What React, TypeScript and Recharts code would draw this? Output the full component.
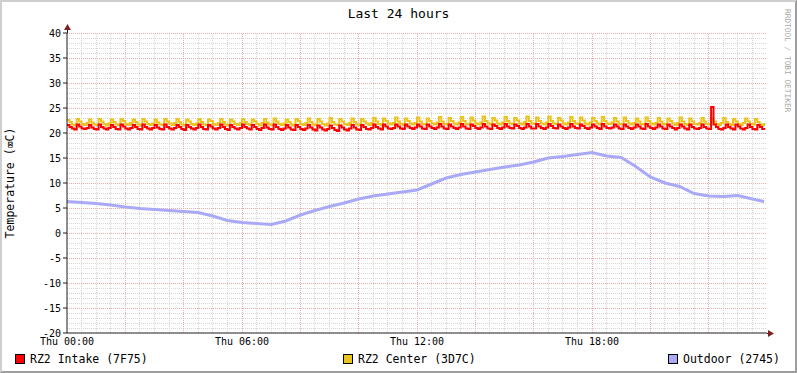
import { LineChart, Line, XAxis, YAxis, ReferenceLine, Legend, Label } from "recharts";

const MONO = "'DejaVu Sans Mono', monospace";

const TITLE = "Last 24 hours";
const Y_LABEL = "Temperature (\u2327C)";
const WATERMARK = "RRDTOOL / TOBI OETIKER";

const SERIES_NAMES = ["RZ2 Intake (7F75)", "RZ2 Center (3D7C)", "Outdoor (2745)"];
const COLORS = ["#ff0000", "#eac41e", "#a9a9f7"];

const X_TICKS = [0, 6, 12, 18];
const X_TICK_LABELS = ["Thu 00:00", "Thu 06:00", "Thu 12:00", "Thu 18:00"];
const Y_TICKS = [-20, -15, -10, -5, 0, 5, 10, 15, 20, 25, 30, 35, 40];

// 5 minute samples, one row per hour
const intake = [
  21.6, 21.2, 20.9, 20.7, 21.7, 21.3, 20.9, 20.8, 21.0, 21.6, 21.1, 20.8,
  20.7, 21.7, 21.2, 20.9, 20.7, 21.0, 21.6, 21.2, 20.8, 20.7, 21.7, 21.3,
  20.9, 20.7, 21.0, 21.6, 21.2, 20.8, 20.7, 21.7, 21.2, 20.9, 20.7, 21.0,
  21.6, 21.1, 20.8, 20.7, 21.7, 21.2, 20.9, 20.7, 21.0, 21.6, 21.2, 20.8,
  20.6, 21.6, 21.2, 20.9, 20.7, 21.0, 21.7, 21.2, 20.8, 20.7, 21.6, 21.3,
  20.9, 20.7, 21.0, 21.7, 21.2, 20.8, 20.6, 21.6, 21.2, 20.9, 20.7, 21.0,
  21.7, 21.2, 20.9, 20.7, 21.6, 21.2, 20.8, 20.6, 21.0, 21.7, 21.1, 20.8,
  20.7, 21.7, 21.2, 20.8, 20.6, 20.9, 21.6, 21.1, 20.7, 20.6, 21.6, 21.2,
  20.8, 20.6, 20.9, 21.6, 21.1, 20.7, 20.5, 21.5, 21.1, 20.7, 20.5, 20.8,
  21.5, 21.0, 20.6, 20.4, 21.5, 21.1, 20.7, 20.5, 20.9, 21.6, 21.1, 20.7,
  20.6, 21.6, 21.2, 20.8, 20.7, 21.0, 21.7, 21.2, 20.9, 20.7, 21.7, 21.3,
  20.9, 20.8, 21.0, 21.7, 21.3, 20.9, 20.8, 21.7, 21.3, 21.0, 20.8, 21.1,
  21.7, 21.3, 20.9, 20.8, 21.7, 21.3, 21.0, 20.8, 21.1, 21.8, 21.3, 20.9,
  20.8, 21.7, 21.3, 21.0, 20.8, 21.1, 21.8, 21.3, 20.9, 20.8, 21.7, 21.4,
  21.0, 20.8, 21.1, 21.8, 21.3, 20.9, 20.8, 21.7, 21.4, 21.0, 20.8, 21.1,
  21.8, 21.3, 21.0, 20.9, 21.7, 21.4, 21.0, 20.8, 21.1, 21.8, 21.3, 20.9,
  20.9, 21.8, 21.3, 21.0, 20.8, 21.1, 21.8, 21.4, 21.0, 20.9, 21.7, 21.3,
  21.0, 20.8, 21.1, 21.8, 21.3, 21.0, 20.9, 21.7, 21.4, 21.0, 20.8, 21.1,
  21.7, 21.3, 21.0, 20.8, 21.8, 21.3, 21.0, 20.9, 21.1, 21.7, 21.3, 20.9,
  20.8, 21.7, 21.3, 21.0, 20.8, 21.1, 21.7, 21.3, 20.9, 20.8, 21.8, 21.3,
  21.0, 20.8, 21.1, 21.7, 21.3, 20.9, 20.8, 21.7, 21.3, 21.0, 20.7, 21.0,
  21.7, 21.3, 20.9, 20.7, 21.7, 21.2, 20.9, 20.8, 21.0, 21.7, 21.2, 20.9,
  20.8, 25.2, 21.7, 21.2, 20.8, 20.7, 21.0, 21.7, 21.2, 20.9, 20.7, 21.7,
  21.3, 20.9, 20.7, 21.0, 21.7, 21.2, 20.8, 20.7, 21.6, 21.2, 20.8, 20.6,
];

const center = [
  22.6, 22.2, 21.7, 21.5, 22.8, 22.3, 21.8, 21.6, 22.0, 22.7, 22.1, 21.7,
  21.6, 22.8, 22.3, 21.8, 21.5, 21.9, 22.7, 22.2, 21.7, 21.6, 22.8, 22.4,
  21.8, 21.6, 22.0, 22.7, 22.2, 21.7, 21.5, 22.8, 22.3, 21.8, 21.6, 21.9,
  22.7, 22.1, 21.7, 21.6, 22.8, 22.3, 21.9, 21.6, 22.0, 22.8, 22.2, 21.7,
  21.5, 22.7, 22.3, 21.8, 21.6, 21.9, 22.8, 22.2, 21.7, 21.6, 22.7, 22.4,
  21.8, 21.6, 22.0, 22.8, 22.2, 21.7, 21.5, 22.7, 22.3, 21.8, 21.6, 22.0,
  22.8, 22.2, 21.8, 21.6, 22.7, 22.3, 21.8, 21.5, 22.0, 22.8, 22.1, 21.7,
  21.6, 22.9, 22.3, 21.8, 21.6, 21.9, 22.7, 22.2, 21.7, 21.5, 22.8, 22.4,
  21.8, 21.6, 22.0, 22.9, 22.2, 21.7, 21.6, 22.8, 22.3, 21.8, 21.5, 21.9,
  23.0, 22.2, 21.7, 21.6, 22.8, 22.3, 21.8, 21.6, 22.0, 22.9, 22.2, 21.7,
  21.6, 22.8, 22.3, 21.9, 21.6, 22.0, 23.0, 22.3, 21.8, 21.6, 22.9, 22.4,
  21.9, 21.7, 22.0, 23.1, 22.3, 21.8, 21.6, 22.9, 22.4, 21.9, 21.7, 22.0,
  23.1, 22.3, 21.8, 21.7, 22.9, 22.4, 21.9, 21.7, 22.1, 23.2, 22.3, 21.8,
  21.7, 23.0, 22.4, 21.9, 21.7, 22.1, 23.2, 22.4, 21.8, 21.7, 23.1, 22.5,
  21.9, 21.7, 22.1, 23.3, 22.4, 21.9, 21.7, 23.0, 22.5, 21.9, 21.7, 22.1,
  23.2, 22.4, 21.9, 21.8, 23.0, 22.5, 21.9, 21.7, 22.2, 23.3, 22.4, 21.9,
  21.8, 23.1, 22.4, 21.9, 21.7, 22.1, 23.3, 22.4, 21.9, 21.8, 23.0, 22.5,
  21.9, 21.7, 22.1, 23.2, 22.4, 21.9, 21.8, 23.1, 22.5, 21.9, 21.7, 22.1,
  23.0, 22.4, 21.9, 21.7, 23.2, 22.4, 21.9, 21.8, 22.1, 23.0, 22.3, 21.8,
  21.7, 23.1, 22.4, 21.9, 21.7, 22.0, 22.9, 22.3, 21.8, 21.7, 23.1, 22.4,
  21.9, 21.7, 22.0, 23.0, 22.3, 21.8, 21.7, 22.9, 22.4, 21.9, 21.6, 22.0,
  23.1, 22.3, 21.8, 21.6, 22.9, 22.3, 21.8, 21.7, 22.0, 23.0, 22.3, 21.8,
  21.7, 22.9, 22.3, 21.8, 21.6, 22.0, 23.0, 22.2, 21.8, 21.6, 22.8, 22.3,
  21.8, 21.6, 22.0, 22.9, 22.3, 21.8, 21.7, 22.8, 22.2, 21.7, 21.6, 22.0,
];

// 30 minute samples, last one at 23:54
const outdoor = [
  6.3, 6.1, 5.9, 5.6, 5.2, 4.9, 4.7, 4.5, 4.3, 4.1, 3.4, 2.5,
  2.1, 1.9, 1.7, 2.4, 3.6, 4.5, 5.3, 6.0, 6.8, 7.4, 7.8, 8.2,
  8.6, 9.8, 11.0, 11.7, 12.2, 12.7, 13.2, 13.6, 14.2, 15.0, 15.3, 15.7,
  16.1, 15.4, 15.1, 13.3, 11.2, 10.0, 9.3, 7.9, 7.4, 7.3, 7.5, 6.8,
  6.3,
];

const END_HOUR = 23.9;

const toRows = (values: number[], step: number) => {
  const rows = values.map((v, i) => ({ t: Math.min(i * step, END_HOUR), v }));
  const last = rows[rows.length - 1];
  if (last.t < END_HOUR) rows.push({ t: END_HOUR, v: last.v });
  return rows;
};

const intakeRows = toRows(intake, 1 / 12);
const centerRows = toRows(center, 1 / 12);
const outdoorRows = toRows(outdoor, 0.5);

const minorY = Array.from({ length: 61 }, (_, i) => i - 20).filter((v) => v % 5 !== 0);
const majorY = Y_TICKS.filter((v) => v !== -20);
const minorX = Array.from({ length: 48 }, (_, i) => i * 0.5).filter((v) => v % 2 !== 0);
const majorX = Array.from({ length: 11 }, (_, i) => (i + 1) * 2);

const GRID = "#d6d6d6";
const MGRID = "#eeaaaa";
const AXIS = "#1f1f1f";
const ARROW = "#801f1f";

const LEGEND_X = [15, 343, 668];

const renderLegend = () => (
  <div style={{ position: "relative", width: 797, height: 16, fontFamily: MONO, fontSize: 11.5, color: "#000" }}>
    {SERIES_NAMES.map((name, i) => (
      <div
        key={name}
        style={{ position: "absolute", left: LEGEND_X[i], top: 0, height: 16, display: "flex", alignItems: "center", whiteSpace: "pre" }}
      >
        <span style={{ display: "inline-block", width: 8, height: 8, border: "1px solid #000", background: COLORS[i], marginRight: 5 }} />
        <span>{name}</span>
      </div>
    ))}
  </div>
);

const renderYLabel = (props: any) => {
  const vb = props.viewBox || { x: 0, y: 33, width: 67, height: 300 };
  const x = vb.x + 10;
  const y = vb.y + vb.height / 2;
  return (
    <text
      x={x}
      y={y}
      transform={`rotate(-90, ${x}, ${y})`}
      textAnchor="middle"
      dominantBaseline="central"
      fontFamily={MONO}
      fontSize={11.5}
      fill="#000"
    >
      {Y_LABEL}
    </text>
  );
};

export default function App() {
  return (
    <div style={{ position: "absolute", left: 0, top: 0, width: 797, height: 373, background: "#fff", overflow: "hidden" }}>
      <div
        style={{
          position: "absolute",
          inset: 0,
          boxSizing: "border-box",
          borderTop: "2px solid #cfcfcf",
          borderLeft: "2px solid #cfcfcf",
          borderRight: "2px solid #9e9e9e",
          borderBottom: "2px solid #9e9e9e",
          pointerEvents: "none",
        }}
      />
      <div
        style={{ position: "absolute", left: 0, top: 6, width: 797, textAlign: "center", fontFamily: MONO, fontSize: 13, color: "#000" }}
      >
        {TITLE}
      </div>
      <div
        style={{ position: "absolute", left: 783, top: 9, writingMode: "vertical-rl", fontFamily: MONO, fontSize: 7.8, color: "#a8a8a8", whiteSpace: "pre" }}
      >
        {WATERMARK}
      </div>
      <div style={{ position: "absolute", left: 0, top: 0 }}>
        <LineChart width={797} height={373} margin={{ top: 33, right: 30, bottom: 0, left: 0 }}>
          <XAxis
            type="number"
            dataKey="t"
            domain={[0, 24]}
            ticks={X_TICKS}
            tickFormatter={(v: number) => X_TICK_LABELS[X_TICKS.indexOf(v)] ?? ""}
            height={40}
            tickLine={false}
            tickSize={0}
            tickMargin={5}
            axisLine={{ stroke: AXIS }}
            tick={{ fill: "#000", fontSize: 10, fontFamily: MONO }}
            allowDataOverflow
          />
          <YAxis
            type="number"
            domain={[-20, 40]}
            ticks={Y_TICKS}
            width={67}
            tickSize={4}
            tickMargin={2}
            interval={0}
            axisLine={{ stroke: AXIS }}
            tickLine={{ stroke: AXIS }}
            tick={{ fill: "#000", fontSize: 10, fontFamily: MONO }}
            allowDataOverflow
          >
            <Label content={renderYLabel} />
          </YAxis>
          {minorY.map((v) => (
            <ReferenceLine key={`my${v}`} y={v} stroke={GRID} strokeDasharray="1 1" shapeRendering="crispEdges" />
          ))}
          {minorX.map((v) => (
            <ReferenceLine key={`mx${v}`} x={v} stroke={GRID} strokeDasharray="1 1" shapeRendering="crispEdges" />
          ))}
          {majorY.map((v) => (
            <ReferenceLine key={`My${v}`} y={v} stroke={MGRID} strokeDasharray="1 1" shapeRendering="crispEdges" />
          ))}
          {majorX.map((v) => (
            <ReferenceLine key={`Mx${v}`} x={v} stroke={MGRID} strokeDasharray="1 1" shapeRendering="crispEdges" />
          ))}
          <Line
            data={centerRows}
            dataKey="v"
            name={SERIES_NAMES[1]}
            type="stepAfter"
            stroke={COLORS[1]}
            strokeWidth={2}
            dot={false}
            isAnimationActive={false}
          />
          <Line
            data={intakeRows}
            dataKey="v"
            name={SERIES_NAMES[0]}
            type="stepAfter"
            stroke={COLORS[0]}
            strokeWidth={2}
            dot={false}
            isAnimationActive={false}
          />
          <Line
            data={outdoorRows}
            dataKey="v"
            name={SERIES_NAMES[2]}
            type="linear"
            stroke={COLORS[2]}
            strokeWidth={3}
            dot={false}
            isAnimationActive={false}
          />
          <Legend
            layout="horizontal"
            verticalAlign="middle"
            align="center"
            content={renderLegend}
            wrapperStyle={{ left: 0, top: 351, width: 797, height: 16 }}
          />
        </LineChart>
      </div>
      <svg width={797} height={373} style={{ position: "absolute", left: 0, top: 0, pointerEvents: "none" }}>
        <line x1={67.5} y1={33} x2={67.5} y2={29} stroke={AXIS} />
        <polygon points="64,30 71,30 67.5,24" fill={ARROW} />
        <line x1={767} y1={333.5} x2={769} y2={333.5} stroke={AXIS} />
        <polygon points="768,330 768,337 774,333.5" fill={ARROW} />
      </svg>
    </div>
  );
}
